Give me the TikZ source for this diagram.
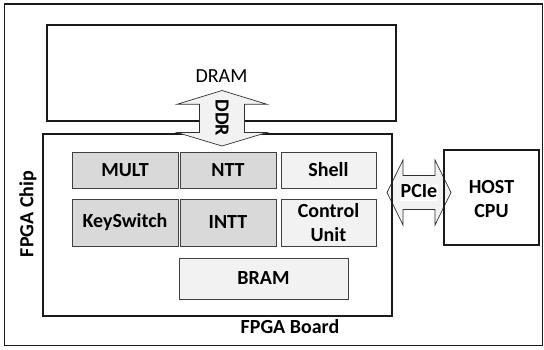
\documentclass[tikz,border=0pt]{standalone}
\usepackage{fontspec}
\setmainfont{Carlito}
\definecolor{unitdark}{HTML}{D9D9D9}
\definecolor{unitlight}{HTML}{F2F2F2}
\definecolor{boxline}{HTML}{404040}
\definecolor{frameline}{HTML}{1A1A1A}
\definecolor{arrowline}{HTML}{303030}
\begin{document}
\begin{tikzpicture}[x=1pt,y=-1pt,
  txt/.style={font=\fontsize{20}{24}\selectfont},
  lbl/.style={txt, font=\fontsize{20}{24}\selectfont\bfseries},
  unit/.style={draw=boxline, line width=0.9pt, inner sep=0pt, lbl, align=center},
  dark/.style={unit, fill=unitdark},
  light/.style={unit, fill=unitlight},
  frame/.style={draw=frameline, line width=1.6pt, inner sep=0pt},
  link/.style={draw=arrowline, line width=0.7pt, fill=unitlight, line join=miter},
]
\useasboundingbox (0,0) rectangle (544,349);
\fill[white] (0,0) rectangle (544,349);

% board outline and its label
\node[frame, minimum width=538pt, minimum height=341.5pt] (board) at (273.5,174.75) {};
\node[lbl] (boardlbl) at (290,327) {FPGA Board};

% off-chip memory
\node[frame, txt, minimum width=349pt, minimum height=96pt] (dram) at (221.5,73) {};
\node[txt] (dramlbl) at (221.5,76) {DRAM};

% PCIe link (drawn below the chip outline)
\draw[link] (387,192.5) -- (403,160) -- (403,175.5) -- (435,175.5) -- (435,160)
  -- (451,192.5) -- (435,225) -- (435,209.5) -- (403,209.5) -- (403,225) -- cycle;
\node[lbl, fill=white, inner xsep=1pt, inner ysep=0pt, text height=13pt, text depth=4pt] (pcie) at (419,192.5) {PCIe};

% FPGA chip outline
\node[frame, minimum width=349pt, minimum height=182pt] (chip) at (217.5,225) {};
\node[lbl, rotate=90] (chiplbl) at (28,214) {FPGA Chip};

% DDR link between DRAM and chip
\draw[link] (222,90.5) -- (267,104.3) -- (244.5,104.3) -- (244.5,132.5) -- (267,132.5)
  -- (222,146) -- (177,132.5) -- (199.5,132.5) -- (199.5,104.3) -- (177,104.3) -- cycle;
\node[lbl, rotate=-90] (ddr) at (222,118) {DDR};

% host
\node[frame, minimum width=95pt, minimum height=95pt] (host) at (491.5,197.5) {};
\node[lbl, align=center] (hostlbl) at (491.5,199.5) {HOST\\CPU};

% on-chip units
\node[dark,  minimum width=106pt, minimum height=36pt] (mult) at (125,170)   {MULT};
\node[dark,  minimum width=96pt,  minimum height=36pt] (ntt)  at (228,170)   {NTT};
\node[light, minimum width=95pt,  minimum height=36pt] (shell) at (328.5,170) {Shell};
\node[dark,  minimum width=106pt, minimum height=47pt] (ks)   at (125,222.5) {KeySwitch};
\node[dark,  minimum width=96pt,  minimum height=47pt] (intt) at (228,222.5) {INTT};
\node[light, minimum width=95pt,  minimum height=47pt] (ctrl) at (328.5,222.5) {Control\\Unit};
\node[light, minimum width=169pt, minimum height=41pt] (bram) at (263.5,278.5) {BRAM};
\end{tikzpicture}
\end{document}
